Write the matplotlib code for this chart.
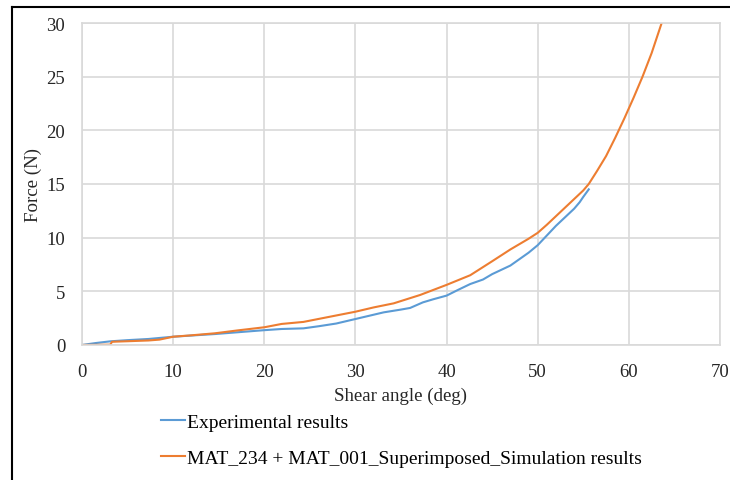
import matplotlib
matplotlib.use('Agg')
import matplotlib.pyplot as plt
from matplotlib.lines import Line2D

plt.rcParams['font.family'] = ['Liberation Serif', 'DejaVu Serif']

# 实验数据
exp_angle = [0, 1.5, 3.1, 5, 7.3, 10, 12, 14.6, 17, 20, 21.9, 24.3, 26, 27.9, 30,
             31.5, 33.1, 35, 36, 37.4, 38.5, 40, 41.3, 42.6, 44, 45, 46, 47, 48,
             49, 50, 51, 52, 53, 54, 54.6, 55, 55.6]
exp_force = [0, 0.18, 0.34, 0.45, 0.56, 0.77, 0.88, 1.02, 1.18, 1.38, 1.49, 1.55, 1.75, 2.0, 2.42,
             2.72, 3.04, 3.3, 3.45, 3.97, 4.25, 4.6, 5.15, 5.68, 6.1, 6.6, 7.0, 7.4, 8.0,
             8.6, 9.3, 10.2, 11.1, 11.9, 12.7, 13.3, 13.8, 14.5]

# 仿真数据
sim_angle = [0, 3.1, 3.3, 5, 7.3, 8.5, 10, 12, 14.6, 17, 20, 21.9, 24.3, 27, 30,
             32, 34.2, 37.1, 40, 42.6, 45, 46, 47, 48, 49, 50, 51, 52, 53, 54, 55,
             55.6, 56.5, 57.5, 58.5, 59.5, 60.5, 61.5, 62.5, 63.6]
sim_force = [0, 0.03, 0.3, 0.35, 0.42, 0.5, 0.77, 0.9, 1.09, 1.35, 1.65, 1.96, 2.15, 2.6, 3.1,
             3.5, 3.88, 4.66, 5.6, 6.5, 7.8, 8.35, 8.9, 9.4, 9.9, 10.45, 11.2, 12.0, 12.8, 13.6, 14.4,
             15.0, 16.2, 17.6, 19.3, 21.1, 23.0, 25.0, 27.2, 30.0]

blue = '#5B9BD5'
orange = '#ED7D31'

fig = plt.figure(figsize=(7.30, 4.81), dpi=100)
ax = fig.add_axes([0.1123, 0.2807, 0.8740, 0.6694])

ax.plot(exp_angle, exp_force, color=blue, lw=1.5, label='Experimental results')
ax.plot(sim_angle, sim_force, color=orange, lw=1.5,
        label='MAT_234 + MAT_001_Superimposed_Simulation results')

ax.set_xlim(0, 70)
ax.set_ylim(0, 30)
ax.set_xticks(range(0, 71, 10))
ax.set_yticks(range(0, 31, 5))
ax.grid(True, color='#D9D9D9', lw=1.2)
ax.set_axisbelow(True)
for s in ax.spines.values():
    s.set_color('#D9D9D9')
    s.set_linewidth(1.2)
ax.tick_params(length=0, labelsize=13.5, colors='#262626')
ax.tick_params(axis='y', pad=12)
ax.tick_params(axis='x', pad=13)

ax.set_xlabel('Shear angle (deg)', fontsize=13.6, color='#262626', labelpad=5)
ax.set_ylabel('Force (N)', fontsize=13.6, color='#262626', labelpad=3.5)

handles, labels = ax.get_legend_handles_labels()
fig.legend(handles, labels, loc='upper left', bbox_to_anchor=(0.2205, 0.139),
           frameon=False, fontsize=14, handlelength=1.24, handletextpad=0.1,
           labelspacing=0.94, borderaxespad=0, borderpad=0)

# 外框线（只有左边和上边）
fig.add_artist(Line2D([0.0164, 0.0164], [0, 0.9834], color='black', lw=1.5,
                      transform=fig.transFigure))
fig.add_artist(Line2D([0.0164, 1], [0.9834, 0.9834], color='black', lw=1.5,
                      transform=fig.transFigure))

fig.savefig('out.png', dpi=100)
